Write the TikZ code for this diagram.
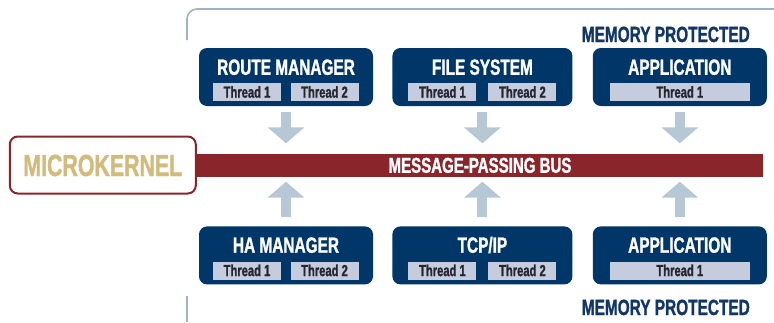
\documentclass[tikz,border=0pt]{standalone}
\usepackage{fontspec}
\setmainfont{Liberation Sans}[FakeStretch=0.70, BoldFeatures={FakeBold=1.2}]
\usepackage{tikz}
\usetikzlibrary{positioning, arrows.meta}

\definecolor{navy}{RGB}{0,54,104}
\definecolor{threadfill}{RGB}{197,204,222}
\definecolor{threadtext}{RGB}{38,38,48}
\definecolor{arrowgray}{RGB}{182,199,214}
\definecolor{busred}{RGB}{139,37,44}
\definecolor{kerneltan}{RGB}{210,187,125}
\definecolor{bracketgray}{RGB}{160,178,202}
\definecolor{memblue}{RGB}{18,54,102}

\begin{document}
\begin{tikzpicture}[
    x=1pt, y=-1pt,
    node distance=19pt,
    proc/.style={rectangle, fill=navy, minimum width=174pt, minimum height=58pt, rounded corners=8pt, inner sep=0pt},
    ptitle/.style={anchor=base, text=white, inner sep=0pt, font=\bfseries\fontsize{22}{24}\selectfont},
    thr/.style={rectangle, fill=threadfill, text=threadtext, minimum height=18pt, inner sep=0pt, text height=11pt, text depth=0pt, font=\bfseries\fontsize{16}{17}\selectfont},
    thrtwo/.style={thr, minimum width=68pt},
    throne/.style={thr, minimum width=140pt},
    bus/.style={rectangle, fill=busred, text=white, minimum width=566pt, minimum height=23pt, inner sep=0pt, text height=15.5pt, text depth=0pt, font=\bfseries\fontsize{21.5}{23}\selectfont},
    kernel/.style={rectangle, draw=busred, line width=2pt, fill=white, rounded corners=8pt, minimum width=186pt, minimum height=57pt, inner sep=0pt, text=kerneltan, text height=22pt, text depth=0pt, font=\bfseries\fontsize{30.5}{32}\selectfont},
    flow/.style={draw=arrowgray, line width=10pt, -{Triangle[width=36pt, length=16pt]}},
    memlbl/.style={anchor=base east, inner sep=0pt, text=memblue, font=\bfseries\fontsize{22}{24}\selectfont},
    bracket/.style={draw=bracketgray, line width=1.6pt, rounded corners=10pt}
]
\useasboundingbox (0,0) rectangle (774,322);

% Memory protected brackets
\draw[bracket] (187,40) |- (774,9);
\draw[bracket] (187,296) -- (187,322);
\node[memlbl] (memtop) at (750,42) {MEMORY PROTECTED};
\node[memlbl] (membot) at (750,315) {MEMORY PROTECTED};

% Upper processes
\node[proc] (rm) at (286,77) {};
\node[proc, minimum width=180pt, right=of rm] (fs) {};
\node[proc, right=20pt of fs] (app) {};

% Lower processes
\node[proc, below=120pt of rm] (ha) {};
\node[proc, minimum width=180pt, below=120pt of fs] (tcp) {};
\node[proc, below=120pt of app] (app2) {};

% Titles
\node[ptitle] (rmt) at ([yshift=-27pt]rm.north) {ROUTE MANAGER};
\node[ptitle] (fst) at ([yshift=-27pt]fs.north) {FILE SYSTEM};
\node[ptitle] (appt) at ([yshift=-27pt]app.north) {APPLICATION};
\node[ptitle] (hat) at ([yshift=-26.5pt]ha.north) {HA MANAGER};
\node[ptitle] (tcpt) at ([yshift=-26.5pt]tcp.north) {TCP/IP};
\node[ptitle] (app2t) at ([yshift=-26.5pt]app2.north) {APPLICATION};

% Threads
\node[thrtwo] (rm1) at ([xshift=-39pt, yshift=14pt]rm.south) {Thread 1};
\node[thrtwo] (rm2) at ([xshift=38.5pt, yshift=14pt]rm.south) {Thread 2};
\node[thrtwo] (fs1) at ([xshift=-40pt, yshift=14pt]fs.south) {Thread 1};
\node[thrtwo] (fs2) at ([xshift=40pt, yshift=14pt]fs.south) {Thread 2};
\node[throne] (app1) at ([yshift=14pt]app.south) {Thread 1};
\node[thrtwo] (ha1) at ([xshift=-39pt, yshift=14pt]ha.south) {Thread 1};
\node[thrtwo] (ha2) at ([xshift=38.5pt, yshift=14pt]ha.south) {Thread 2};
\node[thrtwo] (tcp1) at ([xshift=-40pt, yshift=14pt]tcp.south) {Thread 1};
\node[thrtwo] (tcp2) at ([xshift=40pt, yshift=14pt]tcp.south) {Thread 2};
\node[throne] (app21) at ([yshift=14pt]app2.south) {Thread 1};

% Bus and microkernel
\node[bus] (bus) at (480,165) {MESSAGE-PASSING BUS};
\node[kernel, left=0pt of bus] (mk) {MICROKERNEL};

% Connections
\draw[flow, shorten <=6pt, shorten >=10pt] (rm.south) -- (rm.south |- bus.north);
\draw[flow, shorten <=6pt, shorten >=10pt] (fs.south) -- (fs.south |- bus.north);
\draw[flow, shorten <=6pt, shorten >=10pt] (app.south) -- (app.south |- bus.north);
\draw[flow, shorten <=9pt, shorten >=5pt] (ha.north) -- (ha.north |- bus.south);
\draw[flow, shorten <=9pt, shorten >=5pt] (tcp.north) -- (tcp.north |- bus.south);
\draw[flow, shorten <=9pt, shorten >=5pt] (app2.north) -- (app2.north |- bus.south);

\end{tikzpicture}
\end{document}
